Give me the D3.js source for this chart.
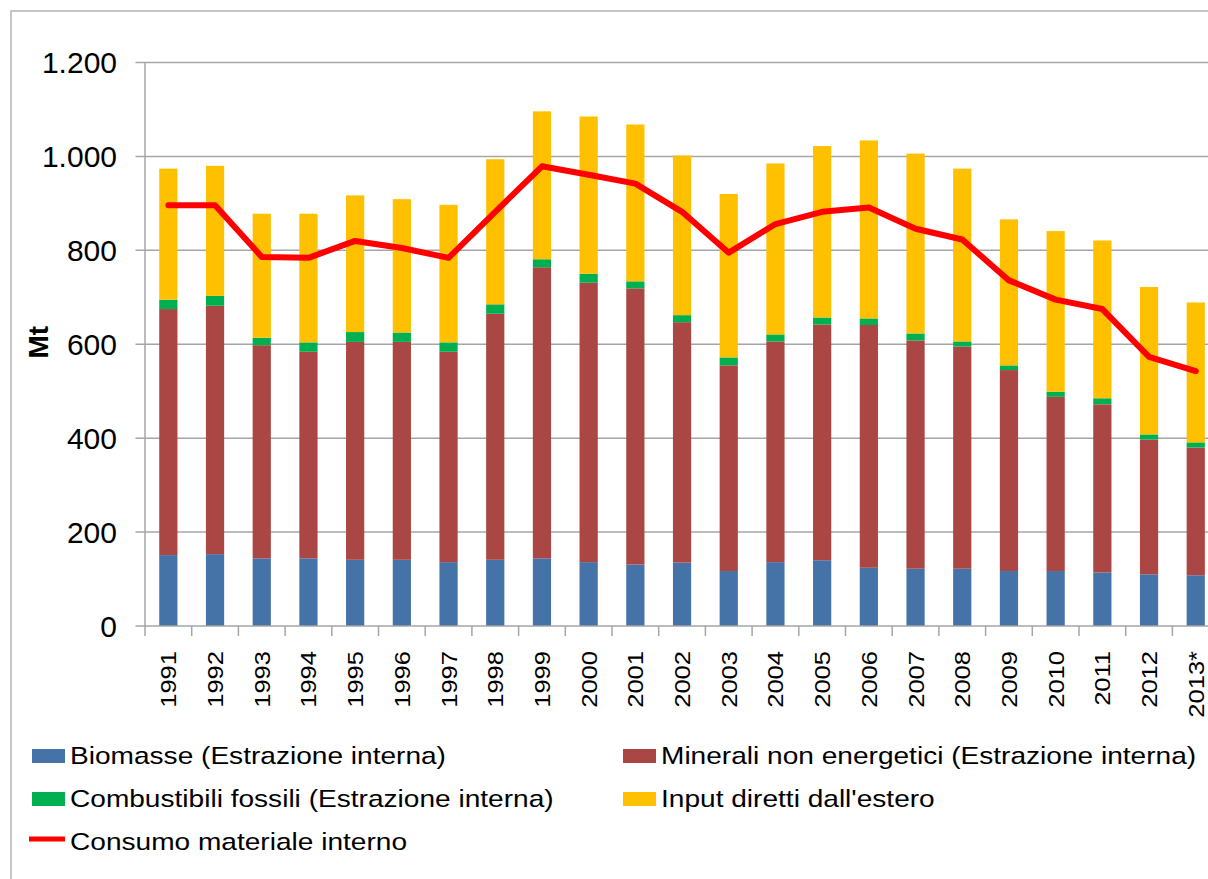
<!DOCTYPE html>
<html>
<head>
<meta charset="utf-8">
<script src="https://cdn.jsdelivr.net/npm/d3@7"></script>
<style>
  html, body { margin: 0; padding: 0; background: #fff; }
  svg { display: block; font-family: "Liberation Sans", Arial, sans-serif; }
</style>
</head>
<body>
<div id="chart"></div>
<script>
// anni
const years = ['1991', '1992', '1993', '1994', '1995', '1996', '1997', '1998', '1999', '2000', '2001', '2002',
    '2003', '2004', '2005', '2006', '2007', '2008', '2009', '2010', '2011', '2012', '2013*'];

// valori in Mt
const biomasse = [151, 153, 144, 144, 141, 141, 136, 141, 144, 136, 131, 135, 117, 136, 140, 124, 122, 122, 117, 117, 114, 110, 108];
const minerali = [524, 529, 454, 440, 464, 464, 448, 524, 620, 595, 588, 512, 438, 470, 502, 517, 486, 473, 428, 371, 358, 287, 272];
const combustibili = [20, 21, 16, 20, 21, 20, 20, 20, 17, 19, 15, 15, 17, 15, 15, 14, 15, 11, 10, 11, 13, 11, 11];
const inputEstero = [279, 277, 264, 274, 291, 284, 293, 309, 315, 335, 334, 340, 348, 364, 365, 379, 383, 368, 311, 342, 336, 314, 298];
const consumo = [896, 896, 786, 784, 820, 805, 784, 882, 979, 961, 942, 882, 795, 856, 882, 891, 846, 823, 736, 695, 675, 573, 543];

const yTicks = [0, 200, 400, 600, 800, 1000, 1200];

const seriesKeys = ['biomasse', 'minerali', 'combustibili', 'input'];
const seriesNames = {
    biomasse: 'Biomasse (Estrazione interna)',
    minerali: 'Minerali non energetici (Estrazione interna)',
    combustibili: 'Combustibili fossili (Estrazione interna)',
    input: 'Input diretti dall\'estero'
};
const lineName = 'Consumo materiale interno';

const COLORS = {
    biomasse: '#4572A7',
    minerali: '#AA4643',
    combustibili: '#00B050',
    input: '#FFC000',
    line: '#FF0000'
};

const WIDTH = 1208;
const HEIGHT = 879;
const PLOT_LEFT = 145;
const STEP = 46.7;           // larghezza di una categoria
const BAR_PAD = 0.61;        // spazio tra le barre
const Y_BOTTOM = 626;
const Y_TOP = 62.5;
const GRID_COLOR = '#a6a6a6';

// tabella per d3.stack
const table = years.map((y, i) => ({
    year: y,
    biomasse: biomasse[i],
    minerali: minerali[i],
    combustibili: combustibili[i],
    input: inputEstero[i]
}));

const svg = d3.select('#chart').append('svg')
    .attr('width', WIDTH)
    .attr('height', HEIGHT);

// cornice del grafico (tagliata a destra e in basso)
svg.append('rect')
    .attr('x', 11).attr('y', 11)
    .attr('width', 1400).attr('height', 1000)
    .attr('fill', '#fff')
    .attr('stroke', '#b4b4b4')
    .attr('stroke-width', 1.5);

const x = d3.scaleBand()
    .domain(years)
    .range([PLOT_LEFT, PLOT_LEFT + STEP * years.length])
    .paddingInner(BAR_PAD)
    .paddingOuter(BAR_PAD / 2);

const y = d3.scaleLinear()
    .domain([0, 1200])
    .range([Y_BOTTOM, Y_TOP]);

const it = d3.formatLocale({ decimal: ',', thousands: '.', grouping: [3], currency: ['', '€'] });
const fmt = it.format(',');

// griglia orizzontale + tacche a sinistra
svg.append('g')
    .selectAll('line')
    .data(yTicks.filter(d => d > 0))
    .join('line')
    .attr('x1', PLOT_LEFT - 9.5)
    .attr('x2', WIDTH + 20)
    .attr('y1', d => y(d))
    .attr('y2', d => y(d))
    .attr('stroke', GRID_COLOR)
    .attr('stroke-width', 1.5);

// etichette asse y
svg.append('g')
    .selectAll('text')
    .data(yTicks)
    .join('text')
    .attr('x', 117)
    .attr('y', d => y(d))
    .attr('dy', '0.36em')
    .attr('text-anchor', 'end')
    .attr('font-size', 30)
    .attr('fill', '#000')
    .text(d => fmt(d));

// titolo asse y
svg.append('text')
    .attr('transform', `translate(48, ${y(600) - 2}) rotate(-90)`)
    .attr('text-anchor', 'middle')
    .attr('font-size', 28)
    .attr('font-weight', 'bold')
    .text('Mt');

// barre impilate
const stacked = d3.stack().keys(seriesKeys)(table);

svg.append('g')
    .selectAll('g')
    .data(stacked)
    .join('g')
    .attr('fill', d => COLORS[d.key])
    .selectAll('rect')
    .data(d => d)
    .join('rect')
    .attr('x', d => x(d.data.year))
    .attr('width', x.bandwidth())
    .attr('y', d => y(d[1]))
    .attr('height', d => y(d[0]) - y(d[1]));

// asse y e asse x
svg.append('line')
    .attr('x1', PLOT_LEFT).attr('x2', PLOT_LEFT)
    .attr('y1', Y_TOP).attr('y2', Y_BOTTOM)
    .attr('stroke', GRID_COLOR).attr('stroke-width', 1.5);
svg.append('line')
    .attr('x1', PLOT_LEFT - 9.5).attr('x2', WIDTH + 20)
    .attr('y1', Y_BOTTOM).attr('y2', Y_BOTTOM)
    .attr('stroke', GRID_COLOR).attr('stroke-width', 1.5);

// tacche tra le categorie
const boundaries = years.map(d => x(d) - (x.step() - x.bandwidth()) / 2);
svg.append('g')
    .selectAll('line')
    .data(boundaries)
    .join('line')
    .attr('x1', d => d).attr('x2', d => d)
    .attr('y1', Y_BOTTOM).attr('y2', Y_BOTTOM + 10)
    .attr('stroke', GRID_COLOR)
    .attr('stroke-width', 1.5);

// etichette asse x, ruotate
svg.append('g')
    .selectAll('text')
    .data(years)
    .join('text')
    .attr('transform', d => `translate(${x(d) + x.bandwidth() / 2 + 8}, 651) rotate(-90) scale(1.16, 1)`)
    .attr('text-anchor', 'end')
    .attr('font-size', 22)
    .attr('fill', '#000')
    .text(d => d);

// linea del consumo materiale interno
const line = d3.line()
    .x((d, i) => x(years[i]) + x.bandwidth() / 2)
    .y(d => y(d));

svg.append('path')
    .datum(consumo)
    .attr('fill', 'none')
    .attr('stroke', COLORS.line)
    .attr('stroke-width', 6)
    .attr('stroke-linejoin', 'round')
    .attr('stroke-linecap', 'round')
    .attr('d', line);

// legenda
const legendItems = [
    { key: 'biomasse', x: 32, y: 764 },
    { key: 'minerali', x: 623, y: 764 },
    { key: 'combustibili', x: 32, y: 807 },
    { key: 'input', x: 623, y: 807 }
];

const legend = svg.append('g');
legendItems.forEach(item => {
    legend.append('rect')
        .attr('x', item.x).attr('y', item.y - 15)
        .attr('width', 33).attr('height', 14)
        .attr('fill', COLORS[item.key]);
    legend.append('text')
        .attr('transform', `translate(${item.x + 38}, ${item.y}) scale(1.17, 1)`)
        .attr('font-size', 24)
        .attr('fill', '#000')
        .text(seriesNames[item.key]);
});

legend.append('line')
    .attr('x1', 29).attr('x2', 65)
    .attr('y1', 839).attr('y2', 839)
    .attr('stroke', COLORS.line)
    .attr('stroke-width', 5);
legend.append('text')
    .attr('transform', 'translate(70, 850) scale(1.17, 1)')
    .attr('font-size', 24)
    .attr('fill', '#000')
    .text(lineName);
</script>
</body>
</html>
